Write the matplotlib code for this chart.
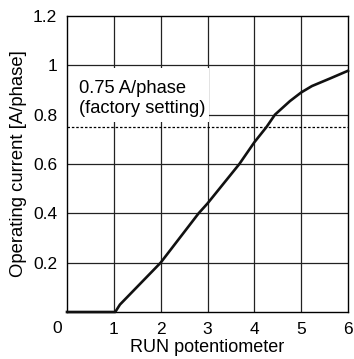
import matplotlib
matplotlib.use("Agg")
from matplotlib import pyplot as plt, patches

plt.rcParams["font.family"] = ["Liberation Sans", "DejaVu Sans"]
plt.rcParams["font.size"] = 12

# curve
run_pot = [0, 1.03, 1.13, 2.0, 2.81, 3.0, 3.68, 4.0, 4.26, 4.44, 4.76, 5.0, 5.23, 5.62, 6.0]
current = [0, 0, 0.03, 0.2, 0.4, 0.44, 0.6, 0.688, 0.75, 0.8, 0.855, 0.89, 0.916, 0.947, 0.978]

factory_setting = 0.75
x_ticks = [1, 2, 3, 4, 5, 6]
y_ticks = [0.2, 0.4, 0.6, 0.8, 1.0]
y_tick_labels = ["0.2", "0.4", "0.6", "0.8", "1", "1.2"]

fig = plt.figure(figsize=(3.54, 3.59), dpi=100)
ax = fig.add_axes([67 / 354, 47 / 359, 281 / 354, 296 / 359])

ax.set_xlim(0, 6)
ax.set_ylim(0, 1.2)

# grid ======================
for gx in x_ticks[:-1]:
    ax.axvline(gx, color="#222222", lw=0.9, zorder=1)
for gy in y_ticks:
    ax.axhline(gy, color="#222222", lw=0.9, zorder=1)

# white label box hides grid behind the annotation
ax.add_patch(patches.Rectangle((0, 0.77), 3.03, 0.22, facecolor="white",
                               edgecolor="none", zorder=2))
ax.text(0.25, 0.865, "0.75 A/phase\n(factory setting)", fontsize=13.2,
        va="center", ha="left", linespacing=1.2, zorder=3)

ax.axhline(factory_setting, color="black", lw=0.9, ls=(0, (2, 1.5)), zorder=3)

ax.plot(run_pot, current, color="#111111", lw=1.9, zorder=4,
        solid_joinstyle="round", clip_on=False)

# ticks / labels ============
ax.set_xticks(x_ticks)
ax.set_yticks(y_ticks + [1.2])
ax.set_yticklabels(y_tick_labels)
ax.tick_params(length=0, pad=7, labelsize=12.5)
ax.text(-0.2, -0.035, "0", ha="center", va="top", fontsize=12.5)

for s in ax.spines.values():
    s.set_linewidth(1.0)
    s.set_color("black")

ax.set_xlabel("RUN potentiometer", fontsize=13, labelpad=2)
ax.set_ylabel("Operating current [A/phase]", fontsize=13.3, labelpad=4)

fig.savefig("out.png", dpi=100)
